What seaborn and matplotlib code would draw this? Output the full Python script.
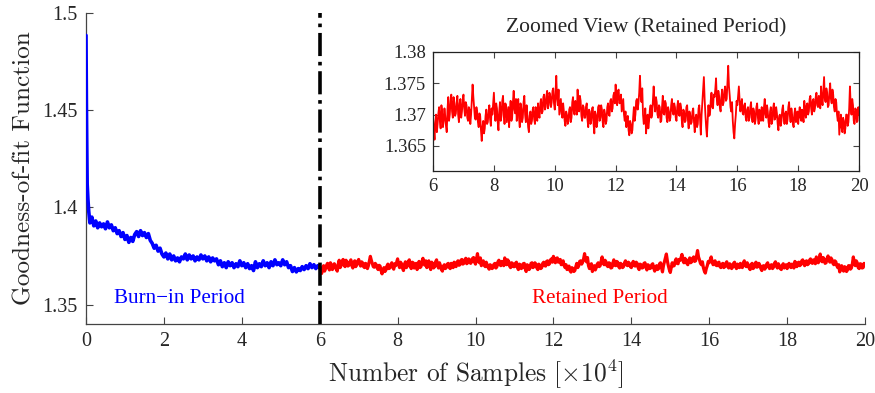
import numpy as np
import pandas as pd
import matplotlib
matplotlib.use("Agg")
import matplotlib.pyplot as plt
import seaborn as sns

# ---------------- data ----------------
burn_head_x = [0.0, 0.01, 0.02, 0.03, 0.05, 0.07, 0.10, 0.15]
burn_head_y = [1.4885, 1.4550, 1.4320, 1.4120, 1.4040, 1.3980, 1.3920, 1.3950]
burn_body_y = [
    1.3905, 1.3930, 1.3895, 1.3920, 1.3900, 1.3915, 1.3890, 1.3925, 1.3895, 1.3910,
    1.3880, 1.3895, 1.3865, 1.3880, 1.3850, 1.3870,
    1.3835, 1.3855, 1.3820, 1.3845, 1.3825, 1.3860, 1.3875, 1.3850, 1.3880, 1.3855,
    1.3870, 1.3845, 1.3865, 1.3830, 1.3815, 1.3790, 1.3805, 1.3775, 1.3790, 1.3760,
    1.3745, 1.3765, 1.3735, 1.3760, 1.3730, 1.3750, 1.3725, 1.3740, 1.3720, 1.3745,
    1.3735, 1.3760, 1.3730, 1.3755, 1.3735, 1.3750, 1.3725, 1.3745, 1.3730, 1.3755,
    1.3735, 1.3750, 1.3725, 1.3745, 1.3720, 1.3740, 1.3725, 1.3735, 1.3705, 1.3725,
    1.3695, 1.3715, 1.3690, 1.3720, 1.3700, 1.3715, 1.3690, 1.3710, 1.3695, 1.3725,
    1.3700, 1.3715, 1.3690, 1.3710, 1.3685, 1.3700, 1.3675, 1.3720, 1.3690, 1.3710,
    1.3695, 1.3725, 1.3700, 1.3715, 1.3690, 1.3720, 1.3700, 1.3730, 1.3705, 1.3715,
    1.3700, 1.3730, 1.3705, 1.3720, 1.3690, 1.3700, 1.3670, 1.3690, 1.3668, 1.3685,
    1.3675, 1.3695, 1.3680, 1.3700, 1.3685, 1.3710, 1.3690, 1.3705, 1.3685, 1.3700,
    1.3690,
]
# retained samples on the 0.05 grid (6.00 ... 20.00)
retained_y = [
    1.3695, 1.3660, 1.3700, 1.3685, 1.3712, 1.3678, 1.3705, 1.3690, 1.3698, 1.3672,
    1.3728, 1.3700, 1.3732, 1.3695, 1.3718, 1.3702, 1.3730, 1.3688, 1.3725, 1.3705,
    1.3732, 1.3698, 1.3715, 1.3690, 1.3708, 1.3700, 1.3748, 1.3712, 1.3692, 1.3705,
    1.3680, 1.3698, 1.3658, 1.3690, 1.3678, 1.3708, 1.3688, 1.3715, 1.3682, 1.3700,
    1.3735, 1.3690, 1.3710, 1.3675, 1.3720, 1.3698, 1.3730, 1.3685, 1.3715, 1.3700,
    1.3680, 1.3722, 1.3695, 1.3738, 1.3702, 1.3690, 1.3725, 1.3680, 1.3710, 1.3695,
    1.3730, 1.3688, 1.3700, 1.3672, 1.3705, 1.3690, 1.3712, 1.3685, 1.3700, 1.3718,
    1.3695, 1.3725, 1.3705, 1.3732, 1.3712, 1.3738, 1.3715, 1.3730, 1.3720, 1.3742,
    1.3708, 1.3762, 1.3715, 1.3700, 1.3725, 1.3695, 1.3705, 1.3682, 1.3700, 1.3690,
    1.3712, 1.3695, 1.3728, 1.3700, 1.3718, 1.3740, 1.3705, 1.3722, 1.3690, 1.3712,
    1.3695, 1.3718, 1.3680, 1.3705, 1.3690, 1.3712, 1.3670, 1.3700, 1.3688, 1.3715,
    1.3695, 1.3708, 1.3680, 1.3702, 1.3690, 1.3718, 1.3698, 1.3725, 1.3710, 1.3735,
    1.3748, 1.3715, 1.3740, 1.3720, 1.3705, 1.3725, 1.3690, 1.3680, 1.3698, 1.3667,
    1.3685, 1.3675, 1.3712, 1.3700, 1.3725, 1.3718, 1.3762, 1.3720, 1.3700, 1.3690,
    1.3670, 1.3700, 1.3690, 1.3715, 1.3700, 1.3745, 1.3705, 1.3720, 1.3695, 1.3712,
    1.3690, 1.3730, 1.3700, 1.3718, 1.3688, 1.3705, 1.3695, 1.3725, 1.3700, 1.3712,
    1.3690, 1.3722, 1.3698, 1.3712, 1.3680, 1.3705, 1.3690, 1.3715, 1.3678, 1.3700,
    1.3688, 1.3710, 1.3672, 1.3700, 1.3685, 1.3715, 1.3668, 1.3720, 1.3760, 1.3700,
    1.3665, 1.3715, 1.3700, 1.3735, 1.3710, 1.3728, 1.3758, 1.3715, 1.3730, 1.3705,
    1.3740, 1.3720, 1.3745, 1.3725, 1.3778, 1.3730, 1.3705, 1.3690, 1.3662, 1.3700,
    1.3715, 1.3745, 1.3705, 1.3725, 1.3700, 1.3718, 1.3690, 1.3712, 1.3695, 1.3720,
    1.3688, 1.3705, 1.3692, 1.3718, 1.3685, 1.3700, 1.3712, 1.3690, 1.3725, 1.3695,
    1.3705, 1.3680, 1.3712, 1.3690, 1.3718, 1.3695, 1.3702, 1.3675, 1.3700, 1.3690,
    1.3715, 1.3685, 1.3705, 1.3692, 1.3720, 1.3688, 1.3700, 1.3680, 1.3710, 1.3695,
    1.3685, 1.3712, 1.3690, 1.3700, 1.3722, 1.3695, 1.3718, 1.3705, 1.3730, 1.3700,
    1.3725, 1.3710, 1.3735, 1.3712, 1.3728, 1.3745, 1.3715, 1.3760, 1.3720, 1.3735,
    1.3715, 1.3750, 1.3718, 1.3732, 1.3705, 1.3720, 1.3690, 1.3668, 1.3700, 1.3672,
    1.3690, 1.3678, 1.3700, 1.3688, 1.3745, 1.3700, 1.3715, 1.3685, 1.3708, 1.3690,
    1.3700,
]
# retained samples read between the grid points (6.025 ... 19.975)
retained_mid_y = [
    1.3675, 1.3688, 1.3672, 1.3702, 1.3690, 1.3715, 1.3680, 1.3710, 1.3682, 1.3708,
    1.3690, 1.3722, 1.3705, 1.3728, 1.3698, 1.3720, 1.3700, 1.3718, 1.3695, 1.3722,
    1.3710, 1.3720, 1.3695, 1.3712, 1.3685, 1.3725, 1.3728, 1.3695, 1.3712, 1.3688,
    1.3702, 1.3675, 1.3680, 1.3670, 1.3698, 1.3685, 1.3705, 1.3692, 1.3710, 1.3718,
    1.3705, 1.3718, 1.3688, 1.3705, 1.3690, 1.3722, 1.3700, 1.3718, 1.3688, 1.3712,
    1.3705, 1.3690, 1.3720, 1.3708, 1.3725, 1.3712, 1.3695, 1.3718, 1.3688, 1.3720,
    1.3700, 1.3715, 1.3680, 1.3698, 1.3685, 1.3708, 1.3692, 1.3712, 1.3690, 1.3700,
    1.3718, 1.3702, 1.3728, 1.3708, 1.3730, 1.3710, 1.3735, 1.3712, 1.3738, 1.3718,
    1.3735, 1.3725, 1.3740, 1.3712, 1.3702, 1.3718, 1.3690, 1.3705, 1.3685, 1.3708,
    1.3688, 1.3720, 1.3705, 1.3722, 1.3700, 1.3715, 1.3730, 1.3698, 1.3715, 1.3695,
    1.3712, 1.3692, 1.3708, 1.3685, 1.3710, 1.3685, 1.3705, 1.3680, 1.3712, 1.3690,
    1.3715, 1.3688, 1.3708, 1.3685, 1.3712, 1.3700, 1.3722, 1.3705, 1.3730, 1.3718,
    1.3725, 1.3738, 1.3718, 1.3732, 1.3715, 1.3700, 1.3705, 1.3692, 1.3675, 1.3690,
    1.3670, 1.3695, 1.3690, 1.3722, 1.3708, 1.3735, 1.3730, 1.3742, 1.3685, 1.3710,
    1.3688, 1.3678, 1.3708, 1.3695, 1.3722, 1.3718, 1.3728, 1.3700, 1.3715, 1.3688,
    1.3712, 1.3702, 1.3722, 1.3695, 1.3712, 1.3690, 1.3715, 1.3705, 1.3718, 1.3695,
    1.3712, 1.3700, 1.3718, 1.3690, 1.3708, 1.3688, 1.3712, 1.3692, 1.3705, 1.3685,
    1.3705, 1.3688, 1.3695, 1.3680, 1.3710, 1.3690, 1.3700, 1.3738, 1.3725, 1.3680,
    1.3690, 1.3698, 1.3722, 1.3712, 1.3732, 1.3740, 1.3725, 1.3738, 1.3712, 1.3728,
    1.3715, 1.3738, 1.3722, 1.3750, 1.3745, 1.3712, 1.3720, 1.3672, 1.3685, 1.3722,
    1.3730, 1.3722, 1.3718, 1.3702, 1.3715, 1.3695, 1.3708, 1.3690, 1.3712, 1.3695,
    1.3710, 1.3685, 1.3712, 1.3695, 1.3708, 1.3690, 1.3695, 1.3712, 1.3700, 1.3715,
    1.3688, 1.3705, 1.3685, 1.3710, 1.3692, 1.3712, 1.3685, 1.3698, 1.3682, 1.3708,
    1.3695, 1.3702, 1.3685, 1.3712, 1.3698, 1.3710, 1.3685, 1.3702, 1.3688, 1.3705,
    1.3702, 1.3695, 1.3708, 1.3688, 1.3705, 1.3715, 1.3700, 1.3725, 1.3710, 1.3722,
    1.3705, 1.3728, 1.3715, 1.3730, 1.3710, 1.3725, 1.3738, 1.3725, 1.3742, 1.3712,
    1.3735, 1.3725, 1.3740, 1.3712, 1.3725, 1.3700, 1.3705, 1.3685, 1.3680, 1.3695,
    1.3670, 1.3700, 1.3682, 1.3710, 1.3715, 1.3725, 1.3690, 1.3710, 1.3688, 1.3712,
]
burn_end = 6.0
x_end = 20.0
main_yticks = [1.35, 1.40, 1.45, 1.50]
main_yticklabels = ["1.35", "1.4", "1.45", "1.5"]
main_xticks = list(range(0, 21, 2))
inset_yticks = [1.365, 1.370, 1.375, 1.380]
inset_yticklabels = ["1.365", "1.37", "1.375", "1.38"]
inset_xticks = list(range(6, 21, 2))

# ---------------- frames ----------------
burn_x = np.concatenate([burn_head_x, np.linspace(0.2, burn_end, len(burn_body_y))])
burn_df = pd.DataFrame({"x": burn_x, "y": burn_head_y + burn_body_y})
grid_x = np.linspace(burn_end, x_end, len(retained_y))
half = (grid_x[1] - grid_x[0]) / 2
mid_x = grid_x[:-1] + half
ret_df = pd.DataFrame({
    "x": np.concatenate([grid_x, mid_x]),
    "y": retained_y + retained_mid_y,
}).sort_values("x").reset_index(drop=True)

sns.set_theme(style="ticks")
plt.rcParams["font.family"] = ["Liberation Serif", "DejaVu Serif"]
plt.rcParams["mathtext.fontset"] = "cm"
plt.rcParams["xtick.direction"] = "in"
plt.rcParams["ytick.direction"] = "in"

fig = plt.figure(figsize=(8.75, 3.93), dpi=100)
ax = fig.add_axes([0.0983, 0.1756, 0.8903, 0.7913])

sns.lineplot(data=burn_df, x="x", y="y", ax=ax, color="#0000ff", lw=2.6,
             estimator=None, errorbar=None, sort=False, zorder=3)
sns.lineplot(data=ret_df, x="x", y="y", ax=ax, color="#ff0000", lw=2.3,
             estimator=None, errorbar=None, sort=False, zorder=3)
ax.axvline(burn_end, color="black", ls="-.", lw=2.6, zorder=4)

ax.set_xlim(0, x_end)
ax.set_ylim(1.34, 1.50)
ax.set_xticks(main_xticks)
ax.set_yticks(main_yticks)
ax.set_yticklabels(main_yticklabels)
ax.tick_params(labelsize=14.5, length=5, width=0.8, color="#444444", pad=6)
for s in ["top", "right"]:
    ax.spines[s].set_visible(False)
for s in ["left", "bottom"]:
    ax.spines[s].set_color("#444444")
    ax.spines[s].set_linewidth(0.9)
ax.set_xlabel("Number of Samples [$\\times10^4$]", fontsize=18.3, labelpad=5,
              family="cmr10")
ax.set_ylabel("Goodness-of-fit Function", fontsize=18.2, labelpad=5,
              family="cmr10")

ax.text(2.39, 1.353, "Burn\u2212in Period", color="#0000ff", fontsize=15.2,
        ha="center", va="center")
ax.text(13.2, 1.353, "Retained Period", color="#ff0000", fontsize=15.2,
        ha="center", va="center")

# ---------------- inset ----------------
ins = fig.add_axes([0.4949, 0.5649, 0.4869, 0.3028])
sns.lineplot(data=ret_df, x="x", y="y", ax=ins, color="#ff0000", lw=1.3,
             estimator=None, errorbar=None, sort=False)
ins.set_xlim(burn_end, x_end)
ins.set_ylim(1.361, 1.380)
ins.set_xticks(inset_xticks)
ins.set_yticks(inset_yticks)
ins.set_yticklabels(inset_yticklabels)
ins.tick_params(labelsize=13.5, length=4, width=0.8, color="#444444",
                top=True, right=True, pad=5)
for s in ins.spines.values():
    s.set_color("#222222")
    s.set_linewidth(0.9)
ins.set_xlabel("")
ins.set_ylabel("")
ins.set_title("Zoomed View (Retained Period)", fontsize=15.5, pad=14)

fig.savefig("out.png", dpi=100)
